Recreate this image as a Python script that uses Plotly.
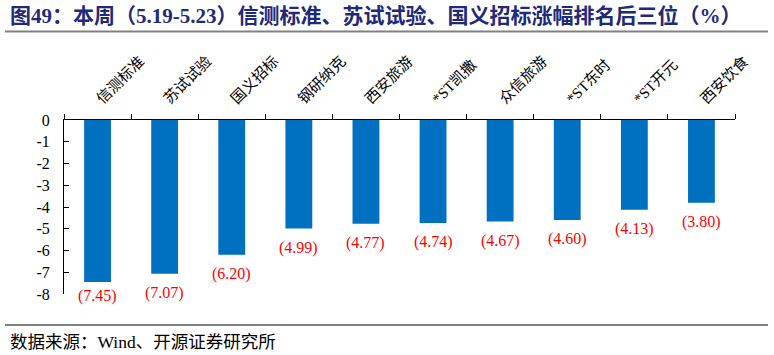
import plotly.graph_objects as go

categories = ["信测标准", "苏试试验", "国义招标", "钢研纳克", "西安旅游",
              "*ST凯撒", "众信旅游", "*ST东时", "*ST开元", "西安饮食"]
values = [-7.45, -7.07, -6.20, -4.99, -4.77, -4.74, -4.67, -4.60, -4.13, -3.80]
y_ticks = [0, -1, -2, -3, -4, -5, -6, -7, -8]

W, H = 774, 355
L, R, T, B = 64, 39, 120, 61
PW, PH = W - L - R, H - T - B

def px_x(px):
    return (px - L) / PW

def px_y(py):
    return (H - B - py) / PH

SERIF = "Liberation Serif, Noto Sans CJK SC"

fig = go.Figure()
fig.add_trace(go.Bar(
    x=categories, y=values,
    marker=dict(color="#0070C0", line=dict(width=0)),
    hoverinfo="skip",
))

px_per_unit = PH / 8.0
for c, v in zip(categories, values):
    bar_end_px = T - v * px_per_unit
    target = min(bar_end_px + 19, 296)
    fig.add_annotation(x=c, y=v, yshift=-(target - bar_end_px),
                       text=f"({abs(v):.2f})", showarrow=False,
                       xanchor="center", yanchor="middle",
                       font=dict(family=SERIF, size=16, color="#FF0000"))

fig.update_layout(
    width=W, height=H,
    margin=dict(l=L, r=R, t=T, b=B, autoexpand=False),
    paper_bgcolor="white", plot_bgcolor="white",
    showlegend=False,
    bargap=0.6,
    xaxis=dict(
        side="top", tickangle=-45, tickson="boundaries",
        ticks="outside", ticklen=5, tickcolor="black", tickwidth=1,
        showline=True, linecolor="black", linewidth=1,
        showgrid=False, zeroline=False, automargin=False,
        ticklabelstandoff=6,
        tickfont=dict(family=SERIF, size=15, color="black"),
    ),
    yaxis=dict(
        range=[-8, 0], tickvals=y_ticks, ticktext=[str(t) for t in y_ticks],
        ticks="inside", ticklen=5, tickcolor="black", tickwidth=1,
        showline=True, linecolor="black", linewidth=1,
        showgrid=False, zeroline=False, automargin=False,
        ticklabelstandoff=10,
        tickfont=dict(family=SERIF, size=16, color="black"),
    ),
)

# Title
fig.add_annotation(xref="paper", yref="paper", x=px_x(8), y=px_y(16),
                   xanchor="left", yanchor="middle", showarrow=False,
                   text="<b>图49：本周（5.19-5.23）信测标准、苏试试验、国义招标涨幅排名后三位（%）</b>",
                   font=dict(family=SERIF, size=21, color="#1F2A7A"))
# Footer
fig.add_annotation(xref="paper", yref="paper", x=px_x(8), y=px_y(342),
                   xanchor="left", yanchor="middle", showarrow=False,
                   text="数据来源：Wind、开源证券研究所",
                   font=dict(family=SERIF, size=17.5, color="black"))

for py in (31.5, 325):
    fig.add_shape(type="line", xref="paper", yref="paper",
                  x0=px_x(5), x1=px_x(768), y0=px_y(py), y1=px_y(py),
                  line=dict(color="#808080", width=2))

fig.write_html("out.html",
               config={"displayModeBar": False, "staticPlot": True},
               post_script="document.body.style.margin='0';document.body.style.overflow='hidden';")
